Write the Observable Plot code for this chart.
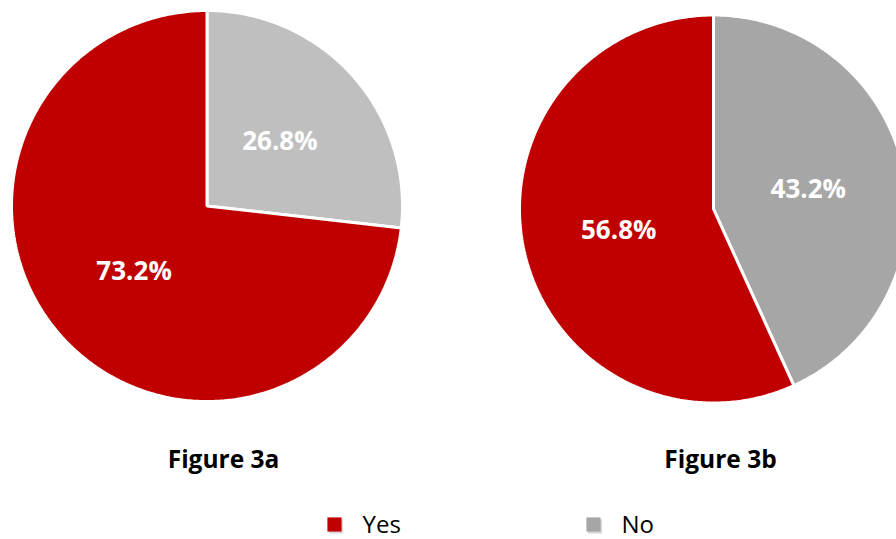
<!DOCTYPE html>
<html>
<head>
<meta charset="utf-8">
<script src="https://cdn.jsdelivr.net/npm/d3@7"></script>
<script src="https://cdn.jsdelivr.net/npm/@observablehq/plot@0.6"></script>
<style>
  html, body { margin: 0; padding: 0; background: #fff; }
  #chart { width: 896px; height: 539px; }
</style>
</head>
<body>
<div id="chart"></div>
<script>
// ---- Data ----
const figures = ["Figure 3a", "Figure 3b"];
const categories = ["No", "Yes"];
const noValues = [26.8, 43.2];
const yesValues = [73.2, 56.8];
const colors = {
  "Figure 3a": {No: "#bfbfbf", Yes: "#c00000"},
  "Figure 3b": {No: "#a6a6a6", Yes: "#c00000"}
};

// ---- Layout (pixel space used as the x/y domain) ----
const W = 896, H = 539;
const layout = {
  "Figure 3a": {cx: 206.5, cy: 205.5, r: 195.5, tx: 223, ty: 460},
  "Figure 3b": {cx: 713, cy: 208.5, r: 194, tx: 720, ty: 460}
};

// Build slice polygons (start at 12 o'clock, clockwise: No first, then Yes)
const slicePts = [];
const labels = [];
figures.forEach((f, i) => {
  const L = layout[f];
  const vals = {No: noValues[i], Yes: yesValues[i]};
  let start = 0;
  for (const c of categories) {
    const span = vals[c] / 100 * 2 * Math.PI;
    const end = start + span;
    const key = f + "|" + c;
    slicePts.push({key, fig: f, cat: c, x: L.cx, y: L.cy});
    const n = Math.max(2, Math.ceil(span / 0.01));
    for (let k = 0; k <= n; k++) {
      const a = start + span * k / n;
      slicePts.push({key, fig: f, cat: c, x: L.cx + L.r * Math.sin(a), y: L.cy - L.r * Math.cos(a)});
    }
    const mid = (start + end) / 2;
    const lr = L.r * 0.5;
    labels.push({x: L.cx + lr * Math.sin(mid), y: L.cy - lr * Math.cos(mid) + 1, text: vals[c].toFixed(1) + "%"});
    start = end;
  }
});

const titles = figures.map(f => ({x: layout[f].tx, y: layout[f].ty, text: f}));
const legend = [
  {cat: "Yes", x: 334, y: 524, tx: 362},
  {cat: "No", x: 593, y: 524, tx: 621}
];
const legendColor = {Yes: "#c00000", No: "#a6a6a6"};

const chart = Plot.plot({
  width: W,
  height: H,
  margin: 0,
  x: {domain: [0, W], range: [0, W], axis: null},
  y: {domain: [0, H], range: [0, H], axis: null},
  style: {fontFamily: "'Open Sans', sans-serif", background: "#fff"},
  marks: [
    Plot.line(slicePts, {
      x: "x", y: "y", z: "key",
      curve: "linear-closed",
      fill: d => colors[d.fig][d.cat],
      stroke: "white",
      strokeWidth: 3,
      strokeLinejoin: "miter"
    }),
    Plot.text(labels, {
      x: "x", y: "y", text: "text",
      fill: "white", fontWeight: "bold", fontSize: 26
    }),
    Plot.text(titles, {
      x: "x", y: "y", text: "text",
      fill: "#000", fontWeight: "bold", fontSize: 24.5
    }),
    Plot.dot(legend, {
      x: d => d.x + 1.5, y: d => d.y + 2, symbol: "square", r: 8,
      fill: "#d8d8d8", stroke: null
    }),
    Plot.dot(legend, {
      x: "x", y: "y", symbol: "square", r: 8,
      fill: d => legendColor[d.cat], stroke: null
    }),
    Plot.text(legend, {
      x: "tx", y: d => d.y + 1, text: "cat", textAnchor: "start",
      fill: "#000", fontSize: 24
    })
  ]
});
document.getElementById("chart").appendChild(chart);
</script>
</body>
</html>
